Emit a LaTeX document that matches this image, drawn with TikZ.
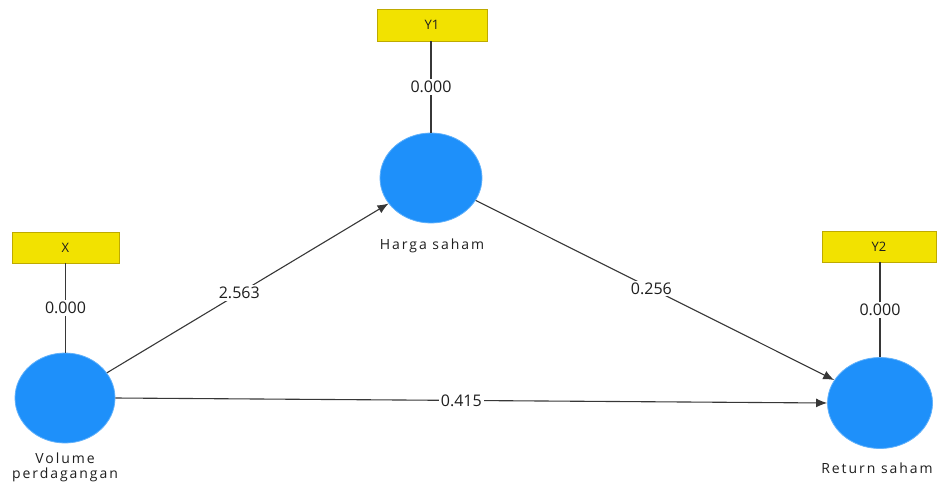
\documentclass[tikz,border=0pt]{standalone}
\usepackage{fontspec}
\setmainfont{Open Sans}
\newfontfamily\spacedfont[LetterSpace=14]{Open Sans}
\usetikzlibrary{arrows.meta,shapes.geometric}
\definecolor{lv}{RGB}{30,144,250}
\definecolor{ind}{RGB}{242,226,0}
\definecolor{indb}{RGB}{190,170,0}
\definecolor{ln}{RGB}{55,55,55}
\definecolor{tx}{RGB}{30,30,30}
\begin{document}
\begin{tikzpicture}[x=1pt,y=-1pt,
  latent/.style={ellipse,fill=lv,draw=lv!70!white,line width=0.8pt,minimum width=100pt,minimum height=90pt,inner sep=0pt},
  indic/.style={rectangle,fill=ind,draw=indb,line width=0.8pt,text=tx,font=\fontsize{13}{15}\selectfont,inner sep=0pt},
  lab/.style={text=tx,font=\spacedfont\fontsize{14}{18}\selectfont,align=center},
  wt/.style={fill=white,text=tx,font=\fontsize{16}{18}\selectfont,inner sep=2pt},
  conn/.style={draw=ln,line width=1.1pt},
  arr/.style={conn,-{Latex[length=11pt,width=9pt]}}]
\useasboundingbox (0,0) rectangle (941,495);
% latent variables
\node[latent] (vp) at (65,398) {};
\node[latent,minimum width=102pt] (hs) at (431,178) {};
\node[latent,minimum width=105pt,minimum height=91pt] (rs) at (880,403) {};
% indicators
\node[indic,minimum width=107pt,minimum height=31pt] (x) at (65.5,247.5) {X};
\node[indic,minimum width=110pt,minimum height=32pt] (y1) at (432,25) {Y1};
\node[indic,minimum width=114pt,minimum height=31pt] (y2) at (879,246.5) {Y2};
% labels
\node[lab] (lvp) at (65,467) {Volume\\[-3pt]perdagangan};
\node[lab] (lhs) at (432,246) {Harga saham};
\node[lab] (lrs) at (877,468) {Return saham};
% indicator links
\draw[conn] (x.south) -- node[wt] {0.000} (x.south |- vp.north);
\draw[conn] (y1.south -| hs.north) -- node[wt] {0.000} (hs.north);
\draw[conn] (y2.south -| rs.north) -- node[wt] {0.000} (rs.north);
% paths
\draw[arr] (vp) -- node[wt,pos=0.47] {2.563} (hs);
\draw[arr] (hs) -- node[wt,pos=0.49] {0.256} (rs);
\draw[arr] (vp.east) -- node[wt,pos=0.486] {0.415} (rs.west);
\end{tikzpicture}
\end{document}
